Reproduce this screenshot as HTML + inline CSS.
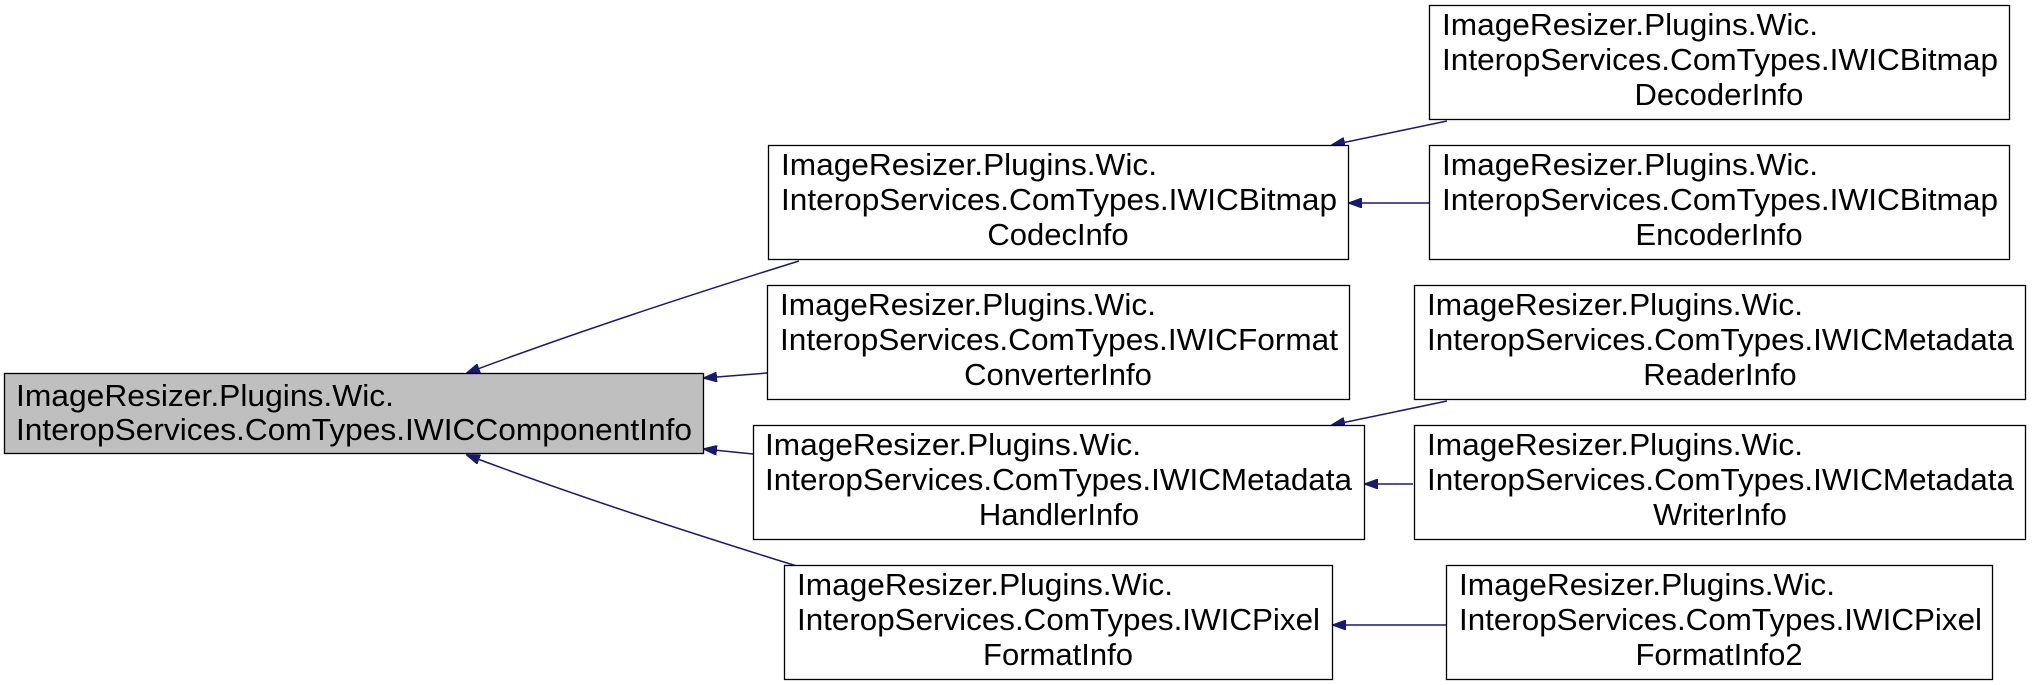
<!DOCTYPE html>
<html><head><meta charset="utf-8"><style>
html,body{margin:0;padding:0;background:#fff;}
svg{display:block;}
text{font-family:"Liberation Sans",Arial,sans-serif;font-size:31px;fill:#000;}
</style></head><body>
<svg width="2032" height="685" viewBox="0 0 2032 685" xmlns="http://www.w3.org/2000/svg">
<defs>
<marker id="a" markerWidth="14" markerHeight="10" refX="13" refY="5" orient="auto" markerUnits="userSpaceOnUse">
<path d="M0,0 L14,5 L0,10 Z" fill="#191970" stroke="#191970"/>
</marker>
</defs>
<g fill="none" stroke="#191970" stroke-width="1.5">
<path d="M799,261 C680,298 560,338 467,373" marker-end="url(#a)"/>
<path d="M767,373 L704,378" marker-end="url(#a)"/>
<path d="M753,454 L704,449" marker-end="url(#a)"/>
<path d="M800,567 C680,530 560,490 467,455" marker-end="url(#a)"/>
<path d="M1447,121 L1332,145" marker-end="url(#a)"/>
<path d="M1429,203 L1349,203" marker-end="url(#a)"/>
<path d="M1447,401 L1332,425" marker-end="url(#a)"/>
<path d="M1413,484 L1365,484" marker-end="url(#a)"/>
<path d="M1446,625 L1333,625" marker-end="url(#a)"/>
</g>
<g stroke="#000" stroke-width="1.3">
<rect x="4.5" y="373.5" width="699" height="80" fill="#bfbfbf"/>
<rect x="768.5" y="145.5" width="580" height="114" fill="#fff"/>
<rect x="767.5" y="285.5" width="582" height="114" fill="#fff"/>
<rect x="753.5" y="425.5" width="611" height="114" fill="#fff"/>
<rect x="784.5" y="565.5" width="548" height="114" fill="#fff"/>
<rect x="1429.5" y="5.5" width="580" height="114" fill="#fff"/>
<rect x="1429.5" y="145.5" width="580" height="114" fill="#fff"/>
<rect x="1414.5" y="285.5" width="611" height="114" fill="#fff"/>
<rect x="1414.5" y="425.5" width="611" height="114" fill="#fff"/>
<rect x="1446.5" y="565.5" width="546" height="114" fill="#fff"/>
</g>
<text x="16" y="406" textLength="378" lengthAdjust="spacingAndGlyphs">ImageResizer.Plugins.Wic.</text>
<text x="16" y="440" textLength="676" lengthAdjust="spacingAndGlyphs">InteropServices.ComTypes.IWICComponentInfo</text>

<text x="781" y="175" textLength="376" lengthAdjust="spacingAndGlyphs">ImageResizer.Plugins.Wic.</text>
<text x="781" y="210" textLength="556" lengthAdjust="spacingAndGlyphs">InteropServices.ComTypes.IWICBitmap</text>
<text x="1058" y="245" text-anchor="middle">CodecInfo</text>

<text x="780" y="315" textLength="376" lengthAdjust="spacingAndGlyphs">ImageResizer.Plugins.Wic.</text>
<text x="780" y="350" textLength="558" lengthAdjust="spacingAndGlyphs">InteropServices.ComTypes.IWICFormat</text>
<text x="1058" y="385" text-anchor="middle">ConverterInfo</text>

<text x="765" y="455" textLength="376" lengthAdjust="spacingAndGlyphs">ImageResizer.Plugins.Wic.</text>
<text x="765" y="490" textLength="587" lengthAdjust="spacingAndGlyphs">InteropServices.ComTypes.IWICMetadata</text>
<text x="1059" y="525" text-anchor="middle">HandlerInfo</text>

<text x="797" y="595" textLength="376" lengthAdjust="spacingAndGlyphs">ImageResizer.Plugins.Wic.</text>
<text x="797" y="630" textLength="523" lengthAdjust="spacingAndGlyphs">InteropServices.ComTypes.IWICPixel</text>
<text x="1058" y="665" text-anchor="middle">FormatInfo</text>

<text x="1442" y="35" textLength="376" lengthAdjust="spacingAndGlyphs">ImageResizer.Plugins.Wic.</text>
<text x="1442" y="70" textLength="556" lengthAdjust="spacingAndGlyphs">InteropServices.ComTypes.IWICBitmap</text>
<text x="1719" y="105" text-anchor="middle">DecoderInfo</text>

<text x="1442" y="175" textLength="376" lengthAdjust="spacingAndGlyphs">ImageResizer.Plugins.Wic.</text>
<text x="1442" y="210" textLength="556" lengthAdjust="spacingAndGlyphs">InteropServices.ComTypes.IWICBitmap</text>
<text x="1719" y="245" text-anchor="middle">EncoderInfo</text>

<text x="1427" y="315" textLength="376" lengthAdjust="spacingAndGlyphs">ImageResizer.Plugins.Wic.</text>
<text x="1427" y="350" textLength="587" lengthAdjust="spacingAndGlyphs">InteropServices.ComTypes.IWICMetadata</text>
<text x="1720" y="385" text-anchor="middle">ReaderInfo</text>

<text x="1427" y="455" textLength="376" lengthAdjust="spacingAndGlyphs">ImageResizer.Plugins.Wic.</text>
<text x="1427" y="490" textLength="587" lengthAdjust="spacingAndGlyphs">InteropServices.ComTypes.IWICMetadata</text>
<text x="1720" y="525" text-anchor="middle">WriterInfo</text>

<text x="1459" y="595" textLength="376" lengthAdjust="spacingAndGlyphs">ImageResizer.Plugins.Wic.</text>
<text x="1459" y="630" textLength="523" lengthAdjust="spacingAndGlyphs">InteropServices.ComTypes.IWICPixel</text>
<text x="1719" y="665" text-anchor="middle">FormatInfo2</text>
</svg>
</body></html>
